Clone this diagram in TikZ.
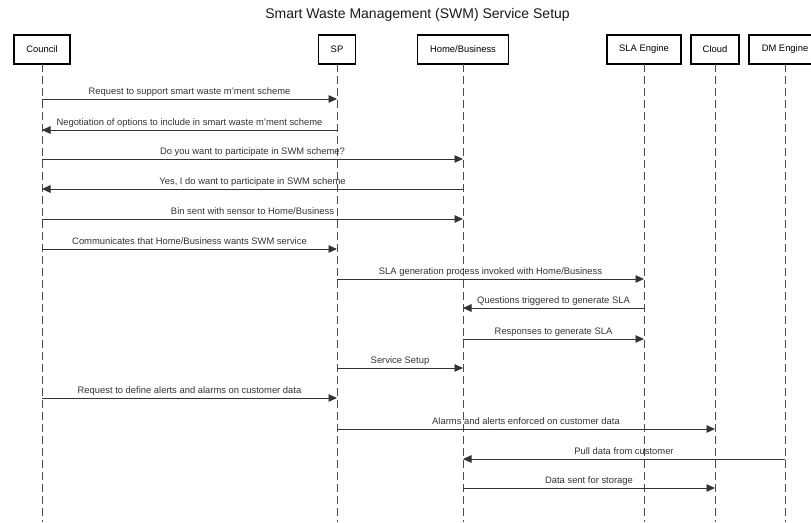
\documentclass[tikz,border=0pt]{standalone}
\usepackage{fontspec}
\setmainfont{Liberation Sans}
\usetikzlibrary{arrows.meta,positioning}

\begin{document}
\begin{tikzpicture} %
		[
			x=1pt, y=1pt,
			font={\fontsize{9.4}{11}\selectfont},
			actor/.style={
				draw,
				rectangle,
				line width=1.6pt,
				outer sep=0pt,
				inner sep=0pt,
				minimum height=29pt,
				node distance=10pt,
			},
			lifeline/.style={dash pattern=on 8pt off 4pt, line width=1pt, black!70},
			arch/.style={-{Triangle[length=8.5pt,width=7.5pt]}, line width=0.9pt, black!80},
			msg/.style={above, inner sep=2pt, text depth=2pt, text=black!80},
			title/.style={font={\fontsize{14}{16}\selectfont}, text=black!90},
		]
		\useasboundingbox (0,0) rectangle (811,-522);
		\node[title] (head) at (417.5,-14.5) {Smart Waste Management (SWM) Service Setup};
		% participants
		\node[actor, minimum width=56pt] 
		(council) at (42,-49.5) {Council};
		\node[actor, minimum width=37pt, right =248.5pt of council] 
		(sp) {SP};
		\node[actor, minimum width=91pt, right =62pt of sp] 
		(home) {Home/Business};
		\node[actor, minimum width=74pt, right =98.5pt of home] 
		(sla) {SLA Engine};
		\node[actor, minimum width=48pt, right =of sla] 
		(cloud) {Cloud};
		\node[actor, minimum width=72pt, right =of cloud] 
		(dm) {DM Engine};
		\coordinate (bottom) at (0,-522);
		\draw[lifeline] (council) -- (council |- bottom);
		\draw[lifeline] (sp) -- (sp |- bottom);
		\draw[lifeline] (home) -- (home |- bottom);
		\draw[lifeline] (sla) -- (sla |- bottom);
		\draw[lifeline] (cloud) -- (cloud |- bottom);
		\draw[lifeline] (dm) -- (dm |- bottom);
		% one row per message
		\path (0,-99) coordinate (r1) (0,-130) coordinate (r2) (0,-159) coordinate (r3)
		(0,-189) coordinate (r4) (0,-219) coordinate (r5) (0,-249) coordinate (r6)
		(0,-279) coordinate (r7) (0,-308) coordinate (r8) (0,-339) coordinate (r9)
		(0,-368) coordinate (r10) (0,-398) coordinate (r11) (0,-429) coordinate (r12)
		(0,-459) coordinate (r13) (0,-488) coordinate (r14);
		\draw[arch] 
		(council |- r1) 
		-- node[msg]{Request to support smart waste m'ment scheme} 
		(sp |- r1);
		\draw[arch] 
		(sp |- r2) 
		-- node[msg]{Negotiation of options to include in smart waste m'ment scheme} 
		(council |- r2);
		\draw[arch] 
		(council |- r3) 
		-- node[msg]{Do you want to participate in SWM scheme?} 
		(home |- r3);
		\draw[arch] 
		(home |- r4) 
		-- node[msg]{Yes, I do want to participate in SWM scheme} 
		(council |- r4);
		\draw[arch] 
		(council |- r5) 
		-- node[msg]{Bin sent with sensor to Home/Business} 
		(home |- r5);
		\draw[arch] 
		(council |- r6) 
		-- node[msg]{Communicates that Home/Business wants SWM service} 
		(sp |- r6);
		\draw[arch] 
		(sp |- r7) 
		-- node[msg]{SLA generation process invoked with Home/Business} 
		(sla |- r7);
		\draw[arch] 
		(sla |- r8) 
		-- node[msg]{Questions triggered to generate SLA} 
		(home |- r8);
		\draw[arch] 
		(home |- r9) 
		-- node[msg]{Responses to generate SLA} 
		(sla |- r9);
		\draw[arch] 
		(sp |- r10) 
		-- node[msg]{Service Setup} 
		(home |- r10);
		\draw[arch] 
		(council |- r11) 
		-- node[msg]{Request to define alerts and alarms on customer data} 
		(sp |- r11);
		\draw[arch] 
		(sp |- r12) 
		-- node[msg]{Alarms and alerts enforced on customer data} 
		(cloud |- r12);
		\draw[arch] 
		(dm |- r13) 
		-- node[msg]{Pull data from customer} 
		(home |- r13);
		\draw[arch] 
		(home |- r14) 
		-- node[msg]{Data sent for storage} 
		(cloud |- r14);
	\end{tikzpicture}
\end{document}
